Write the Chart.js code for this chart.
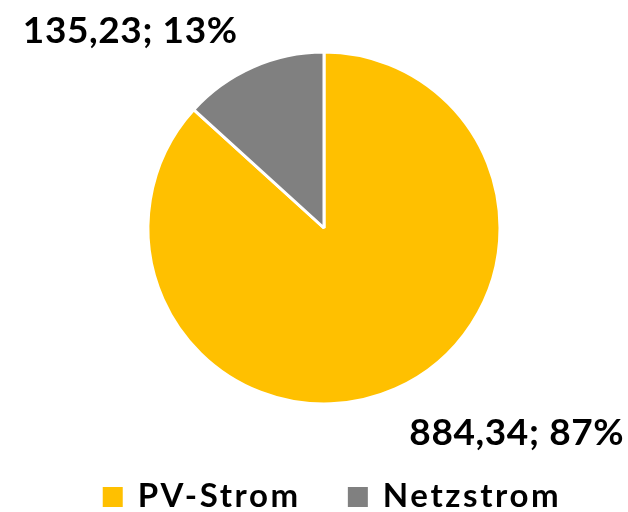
<!DOCTYPE html>
<html>
<head>
<meta charset="utf-8">
<script src="https://cdn.jsdelivr.net/npm/chart.js@4.4.1/dist/chart.umd.min.js"></script>
<style>
  html, body { margin: 0; padding: 0; background: #fff; }
  #wrap { width: 628px; height: 512px; }
</style>
</head>
<body>
<div id="wrap"><canvas id="pieChart" width="628" height="512"></canvas></div>
<script>
// Daten aus dem Diagramm
const kategorien = ['PV-Strom', 'Netzstrom'];
const werte = [884.34, 135.23];
const anteile = ['87%', '13%'];
const farben = ['#FFC000', '#808080'];

const schrift = "Lato, 'Open Sans', sans-serif";

// Beschriftungen außen am Segment (wie Excel)
const labelPlugin = {
    id: 'labelPlugin',
    afterDatasetsDraw(chart) {
        const ctx = chart.ctx;
        const arcs = chart.getDatasetMeta(0).data;
        ctx.save();
        ctx.font = 'bold 37px ' + schrift;
        ctx.letterSpacing = '0.6px';
        ctx.fillStyle = '#000';
        arcs.forEach((arc, i) => {
            const mitte = (arc.startAngle + arc.endAngle) / 2;
            const r = arc.outerRadius + 30;
            const x = arc.x + Math.cos(mitte) * r;
            const y = arc.y + Math.sin(mitte) * r;
            const text = werte[i].toLocaleString('de-DE', { minimumFractionDigits: 2 }) + '; ' + anteile[i];
            ctx.textAlign = x < arc.x ? 'right' : 'left';
            ctx.textBaseline = y < arc.y ? 'alphabetic' : 'top';
            ctx.fillText(text, x - (x < arc.x ? 3 : -2), y + (y < arc.y ? 3 : -2));
        });
        ctx.restore();
    }
};

// Legende unten
const legendePlugin = {
    id: 'legendePlugin',
    afterDraw(chart) {
        const ctx = chart.ctx;
        ctx.save();
        ctx.font = 'bold 33px ' + schrift;
        ctx.letterSpacing = '2.6px';
        ctx.textBaseline = 'alphabetic';
        ctx.textAlign = 'left';
        const box = 20, abstand = 15, luecke = 47;
        let breite = 0;
        kategorien.forEach((k, i) => {
            breite += box + abstand + ctx.measureText(k).width + (i < kategorien.length - 1 ? luecke : 0);
        });
        let x = (chart.width - breite) / 2 + 18;
        const basis = 507;
        kategorien.forEach((k, i) => {
            ctx.fillStyle = farben[i];
            ctx.fillRect(x, basis - box, box, box);
            x += box + abstand;
            ctx.fillStyle = '#000';
            ctx.fillText(k, x, basis);
            x += ctx.measureText(k).width + luecke;
        });
        ctx.restore();
    }
};

new Chart(document.getElementById('pieChart').getContext('2d'), {
    type: 'pie',
    data: {
        labels: kategorien,
        datasets: [{ data: werte, backgroundColor: farben, borderColor: '#FFFFFF', borderWidth: 3, radius: 176 }]
    },
    options: {
        responsive: false,
        animation: false,
        layout: { padding: { left: 20, right: 0, top: 0, bottom: 56 } },
        plugins: { legend: { display: false }, tooltip: { enabled: false } }
    },
    plugins: [labelPlugin, legendePlugin]
});
</script>
</body>
</html>
